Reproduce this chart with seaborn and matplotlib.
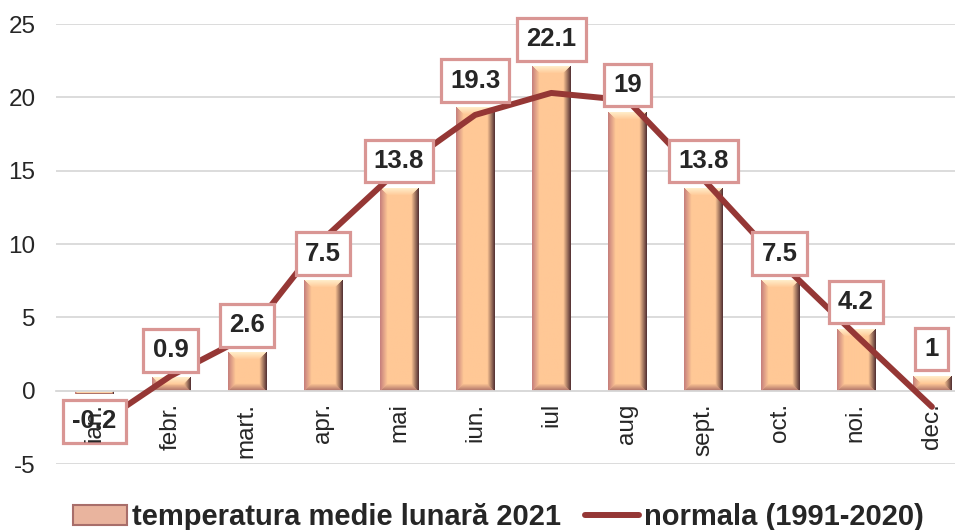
import numpy as np
import pandas as pd
import matplotlib
matplotlib.use('Agg')
import matplotlib.pyplot as plt
from matplotlib.patches import Patch
from matplotlib.lines import Line2D
import seaborn as sns

# date
luni = ['ian.', 'febr.', 'mart.', 'apr.', 'mai', 'iun.', 'iul', 'aug', 'sept.', 'oct.', 'noi.', 'dec.']
temp_2021 = [-0.2, 0.9, 2.6, 7.5, 13.8, 19.3, 22.1, 19, 13.8, 7.5, 4.2, 1]
normala = [-2.5, 1.0, 3.7, 10.3, 15.1, 18.8, 20.3, 19.8, 14.4, 8.8, 3.8, -1.1]
y_ticks = [-5, 0, 5, 10, 15, 20, 25]
legenda = ['temperatura medie lunară 2021', 'normala (1991-2020)']

df = pd.DataFrame({'luna': luni, 'temp': temp_2021})

sns.set_style('white')
plt.rcParams['font.family'] = ['Liberation Sans', 'DejaVu Sans']
plt.rcParams['axes.unicode_minus'] = False

LINE_COL = '#953735'
GRID_COL = '#D9D9D9'


def bevel_img(w, h, b=7):
    # coloana "bevel" ca in Excel
    face = np.array([255, 200, 150]) / 255
    left = np.array([200, 130, 125]) / 255
    right = np.array([90, 55, 55]) / 255
    top = np.array([255, 236, 200]) / 255
    bottom = np.array([175, 115, 105]) / 255
    jj, ii = np.meshgrid(np.arange(w), np.arange(h))
    d = np.stack([jj, w - 1 - jj, ii, h - 1 - ii])
    k = d.argmin(axis=0)
    dm = d.min(axis=0)
    b = max(min(b, w / 2, h / 2), 1)
    t = np.clip(dm / b, 0, 1)[..., None]
    facet = np.stack([left, right, top, bottom])[k]
    return facet * (1 - t) + face * t


fig = plt.figure(figsize=(9.55, 5.3), dpi=100)
ax = fig.add_axes([0.059, 0.1245, 0.9567, 0.8302])

sns.barplot(data=df, x='luna', y='temp', width=0.5, color='#FFC896',
            edgecolor='none', ax=ax, zorder=2)
sns.lineplot(x=np.arange(len(luni)), y=normala, color=LINE_COL, lw=4.3,
             ax=ax, zorder=3, solid_capstyle='round')

ax.set_xlim(-0.5, 11.5)
ax.set_ylim(-5, 25)
fig.canvas.draw()

bars = list(ax.patches)
for p in bars:
    bb = p.get_window_extent()
    w = max(int(round(bb.width)), 2)
    h = max(int(round(bb.height)), 2)
    x0 = p.get_x()
    y0, y1 = sorted([p.get_y(), p.get_y() + p.get_height()])
    ax.imshow(bevel_img(w, h), extent=(x0, x0 + p.get_width(), y0, y1),
              aspect='auto', zorder=2.1, interpolation='bilinear')

for p, v in zip(bars, temp_2021):
    xc = p.get_x() + p.get_width() / 2
    off = 19.5 if v >= 0 else -20
    ax.annotate(f'{v:g}', (xc, v), xytext=(0, off), textcoords='offset points',
                ha='center', va='center', fontsize=18.5, fontweight='bold',
                zorder=4, annotation_clip=False,
                bbox=dict(boxstyle='square,pad=0.36', fc='white', ec='#D99694', lw=2.3))

ax.set_xlim(-0.5, 11.5)
ax.set_ylim(-5, 25)
ax.set_xlabel('')
ax.set_ylabel('')

ax.yaxis.grid(True, color=GRID_COL, lw=1.3)
ax.set_axisbelow(True)
for s in ['left', 'right', 'top']:
    ax.spines[s].set_visible(False)
ax.spines['bottom'].set_position(('data', 0))
ax.spines['bottom'].set_color(GRID_COL)
ax.spines['bottom'].set_linewidth(1.3)

ax.set_xticks(range(len(luni)))
ax.set_xticklabels(luni, rotation=90, fontsize=17.5)
ax.set_xticks(np.arange(-0.5, len(luni), 1), minor=True)
ax.tick_params(axis='x', which='major', length=0, pad=9)
ax.tick_params(axis='x', which='minor', length=5, color=GRID_COL, width=1.3, direction='out')
ax.set_yticks(y_ticks)
ax.tick_params(axis='y', length=0, pad=15, labelsize=17.5)
ax.xaxis.set_zorder(5)

handles = [Patch(facecolor='#E9B49E', edgecolor='#A86E6A', lw=1.5),
           Line2D([], [], color=LINE_COL, lw=4.3, solid_capstyle='round')]
fig.legend(handles, legenda, loc='center', bbox_to_anchor=(0.522, 0.024), ncol=2,
           frameon=False, prop={'weight': 'bold', 'size': 21},
           handlelength=1.85, handletextpad=0.17, columnspacing=0.8,
           borderaxespad=0, borderpad=0)

fig.savefig('out.png', dpi=100)
